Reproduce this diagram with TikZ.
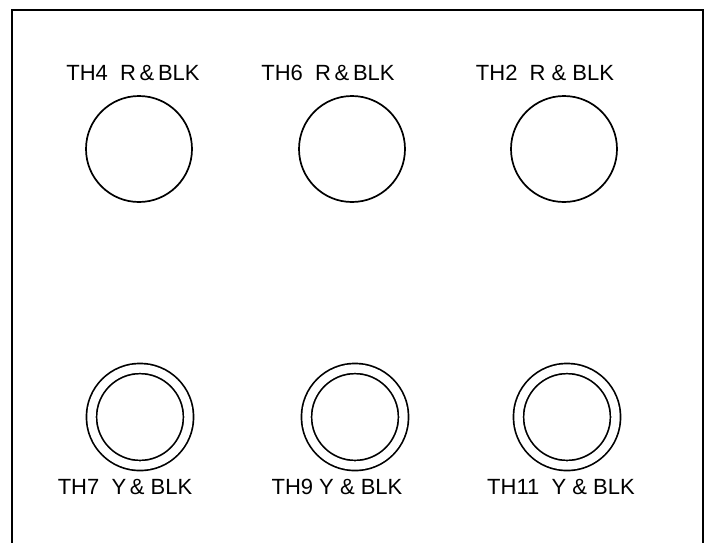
\documentclass[tikz,border=0pt]{standalone}
\usepackage{fontspec}
\setmainfont{Liberation Sans}
\usetikzlibrary{positioning}

\begin{document}
\begin{tikzpicture}[
            x=1pt, y=-1pt,
            jack/.style={draw=black, circle, line width=1.7pt, minimum size=106pt, inner sep=0pt},
            ringjack/.style={jack, double=white, double distance=8.4pt, minimum size=97pt},
            tag/.style={font=\fontsize{22}{22}\selectfont, inner sep=0pt}
        ]

        \useasboundingbox (0,0) rectangle (717,542);
        \draw [line width=2.2pt] (12,548) -- (12,10) -- (703,10) -- (703,548);

        % top row
        \node [jack] (th4) at (139,149) {};
        \node [jack] (th6) at (352,149) {};
        \node [jack] (th2) at (564,149) {};
        \node [tag, above=14pt of th4, xshift=-6pt] {TH4~~R\,\&\,BLK};
        \node [tag, above=14pt of th6, xshift=-24pt] {TH6~~R\,\&\,BLK};
        \node [tag, above=14pt of th2, xshift=-19pt] {TH2~~R~\&~BLK};

        % bottom row
        \node [ringjack] (th7) at (140,417) {};
        \node [ringjack] (th9) at (355,417) {};
        \node [ringjack] (th11) at (567,417) {};
        \node [tag, below=13pt of th7, xshift=-15pt] {TH7~~Y\,\&~BLK};
        \node [tag, below=13pt of th9, xshift=-18pt] {TH9~Y~\&~BLK};
        \node [tag, below=13pt of th11, xshift=-6pt] {TH11~~Y~\&~BLK};

    \end{tikzpicture}
\end{document}
